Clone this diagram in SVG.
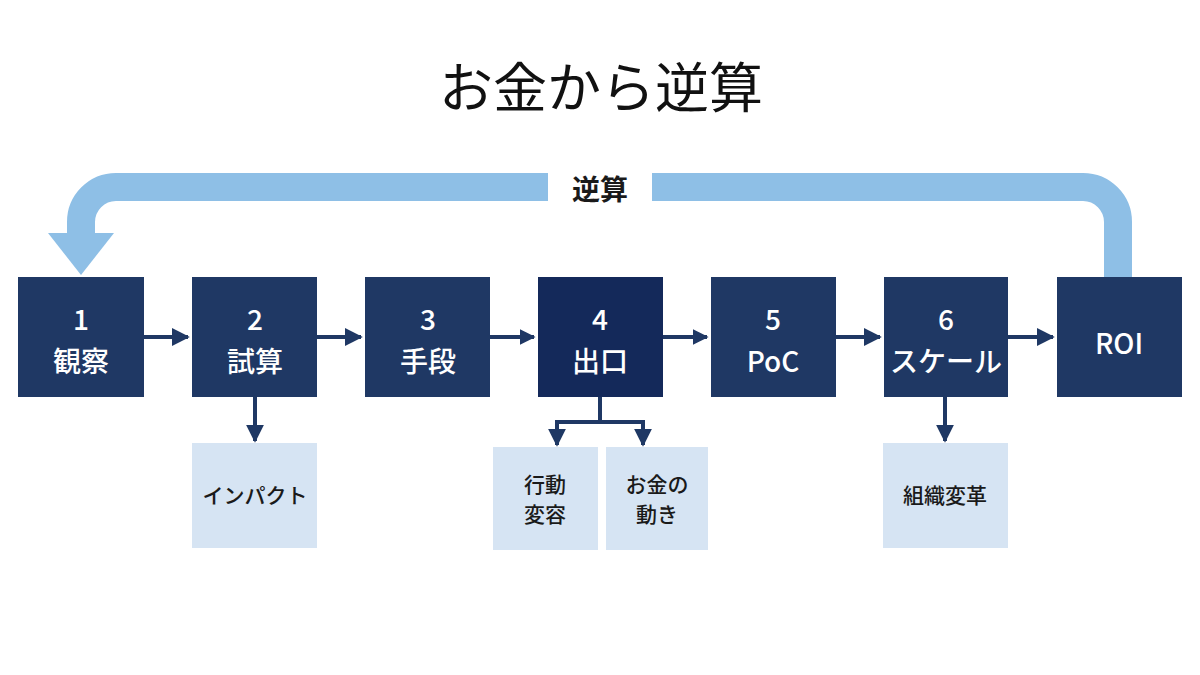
<svg xmlns="http://www.w3.org/2000/svg" width="1200" height="675" viewBox="0 0 1200 675">
<style>
.n{fill:#1f3864}
.l{fill:#d6e4f3}
.t{font-family:"Noto Sans CJK JP","Noto Sans",sans-serif;fill:#fff;text-anchor:middle;font-size:28px;font-weight:500}
.s{font-family:"Noto Sans CJK JP","Noto Sans",sans-serif;fill:#1a1a1a;text-anchor:middle;font-size:21px;font-weight:500}
.c{stroke:#1f3864;stroke-width:4;fill:none}
</style>
<defs>
<marker id="a" viewBox="0 0 10 10" refX="9" refY="5" markerWidth="4.5" markerHeight="4.5" orient="auto"><path d="M0,0L10,5L0,10z" fill="#1f3864"/></marker>
<marker id="b" viewBox="0 0 10 10" refX="9" refY="5" markerWidth="4" markerHeight="4" orient="auto"><path d="M0,0L10,5L0,10z" fill="#1f3864"/></marker>
</defs>
<rect width="1200" height="675" fill="#fff"/>
<text x="601" y="108" font-family="Noto Sans CJK JP,sans-serif" font-size="54" text-anchor="middle" fill="#111">お金から逆算</text>
<g id="loop">
<path d="M1118,277V222a35,35 0 0 0 -35,-35H116a35,35 0 0 0 -35,35V235" fill="none" stroke="#8ebfe6" stroke-width="28"/>
<path d="M48,233H114L81,275z" fill="#8ebfe6"/>
<rect x="548" y="168" width="104" height="40" fill="#fff"/>
<text x="600" y="200" font-family="Noto Sans CJK JP,sans-serif" font-size="28" font-weight="bold" text-anchor="middle" fill="#1a1a1a">逆算</text>
</g>
<g id="connectors">
<path class="c" d="M144,337H188" marker-end="url(#a)"/>
<path class="c" d="M317,337H361" marker-end="url(#a)"/>
<path class="c" d="M490,337H534" stroke-width="6" marker-end="url(#b)"/>
<path class="c" d="M663,337H707" stroke-width="6" marker-end="url(#b)"/>
<path class="c" d="M836,337H880" marker-end="url(#a)"/>
<path class="c" d="M1008,337H1053" marker-end="url(#a)"/>
<path class="c" d="M255,397V441" marker-end="url(#a)"/>
<path class="c" d="M600,397V422M557,422H643M557,420V430M643,420V430"/>
<path class="c" d="M557,428V445" marker-end="url(#a)"/>
<path class="c" d="M643,428V445" marker-end="url(#a)"/>
<path class="c" d="M945,397V441" marker-end="url(#a)"/>
</g>
<g id="n1"><rect class="n" x="18" y="277" width="126" height="120"/><text class="t" x="81" y="330">1</text><text class="t" x="81" y="372">観察</text></g>
<g id="n2"><rect class="n" x="192" y="277" width="125" height="120"/><text class="t" x="255" y="330">2</text><text class="t" x="255" y="372">試算</text></g>
<g id="n3"><rect class="n" x="365" y="277" width="125" height="120"/><text class="t" x="428" y="330">3</text><text class="t" x="428" y="372">手段</text></g>
<g id="n4"><rect fill="#14295a" x="538" y="277" width="125" height="120"/><text class="t" x="600" y="330" font-weight="bold">4</text><text class="t" x="600" y="372" font-weight="bold">出口</text></g>
<g id="n5"><rect class="n" x="711" y="277" width="125" height="120"/><text class="t" x="773" y="330">5</text><text class="t" x="773" y="372">PoC</text></g>
<g id="n6"><rect class="n" x="884" y="277" width="124" height="120"/><text class="t" x="946" y="330">6</text><text class="t" x="946" y="372">スケール</text></g>
<g id="roi"><rect class="n" x="1057" y="277" width="125" height="120"/><text class="t" x="1119" y="354" font-size="40">ROI</text></g>
<g id="s1"><rect class="l" x="192" y="443" width="125" height="105"/><text class="s" x="255" y="503">インパクト</text></g>
<g id="s2"><rect class="l" x="493" y="447" width="105" height="103"/><text class="s" x="545" y="492">行動</text><text class="s" x="545" y="522">変容</text></g>
<g id="s3"><rect class="l" x="606" y="447" width="102" height="103"/><text class="s" x="657" y="492">お金の</text><text class="s" x="657" y="522">動き</text></g>
<g id="s4"><rect class="l" x="883" y="443" width="125" height="105"/><text class="s" x="945" y="503">組織変革</text></g>
</svg>
